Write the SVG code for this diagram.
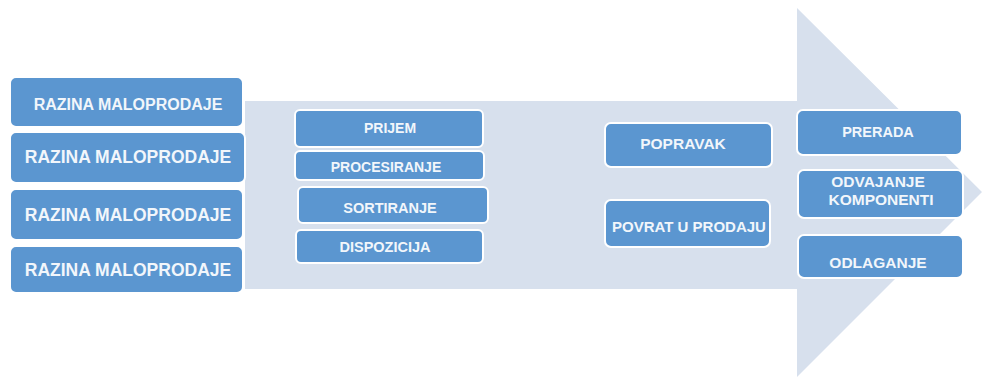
<svg xmlns="http://www.w3.org/2000/svg" width="984" height="381" viewBox="0 0 984 381">
<style>
.box{fill:#5b96d0;stroke:#ffffff;stroke-width:2}
.t{fill:#f2f6fb;font-family:"Liberation Sans",Arial,sans-serif;font-weight:bold;text-anchor:middle}
</style>
<rect width="984" height="381" fill="#ffffff"/>
<g id="arrow">
<polygon points="245,101 797,101 797,8 982,192 797,377 797,289 245,289" fill="#d7e0ed"/>
</g>
<g id="connectors"></g>
<g id="n1"><rect class="box" x="10" y="77" width="233" height="50" rx="6"/><text class="t" x="128" y="110" font-size="16">RAZINA MALOPRODAJE</text></g>
<g id="n2"><rect class="box" x="10" y="132" width="235" height="51" rx="6"/><text class="t" x="128" y="163" font-size="17.5">RAZINA MALOPRODAJE</text></g>
<g id="n3"><rect class="box" x="10" y="189" width="233" height="51" rx="6"/><text class="t" x="128" y="221" font-size="17.5">RAZINA MALOPRODAJE</text></g>
<g id="n4"><rect class="box" x="10" y="246" width="233" height="47" rx="6"/><text class="t" x="128" y="276" font-size="17.5">RAZINA MALOPRODAJE</text></g>
<g id="n5"><rect class="box" x="295" y="110" width="188" height="37" rx="5"/><text class="t" x="390" y="133" font-size="14">PRIJEM</text></g>
<g id="n6"><rect class="box" x="295" y="151" width="189" height="29" rx="5"/><text class="t" x="386" y="172" font-size="14">PROCESIRANJE</text></g>
<g id="n7"><rect class="box" x="298" y="187" width="190" height="36" rx="5"/><text class="t" x="390" y="213" font-size="14.5">SORTIRANJE</text></g>
<g id="n8"><rect class="box" x="296" y="230" width="187" height="33" rx="5"/><text class="t" x="385" y="252" font-size="14.5">DISPOZICIJA</text></g>
<g id="n9"><rect class="box" x="605" y="123" width="167" height="44" rx="6"/><text class="t" x="683" y="149" font-size="15.5">POPRAVAK</text></g>
<g id="n10"><rect class="box" x="605" y="200" width="165" height="47" rx="6"/><text class="t" x="689" y="232" font-size="15">POVRAT U PRODAJU</text></g>
<g id="n11"><rect class="box" x="797" y="110" width="165" height="45" rx="6"/><text class="t" x="878" y="137" font-size="14.5">PRERADA</text></g>
<g id="n12"><rect class="box" x="798" y="170" width="165" height="48" rx="6"/><text class="t" x="878" y="187" font-size="15.5">ODVAJANJE</text><text class="t" x="881" y="205" font-size="15.5">KOMPONENTI</text></g>
<g id="n13"><rect class="box" x="798" y="235" width="165" height="43" rx="6"/><text class="t" x="878" y="268" font-size="15.5">ODLAGANJE</text></g>
</svg>
